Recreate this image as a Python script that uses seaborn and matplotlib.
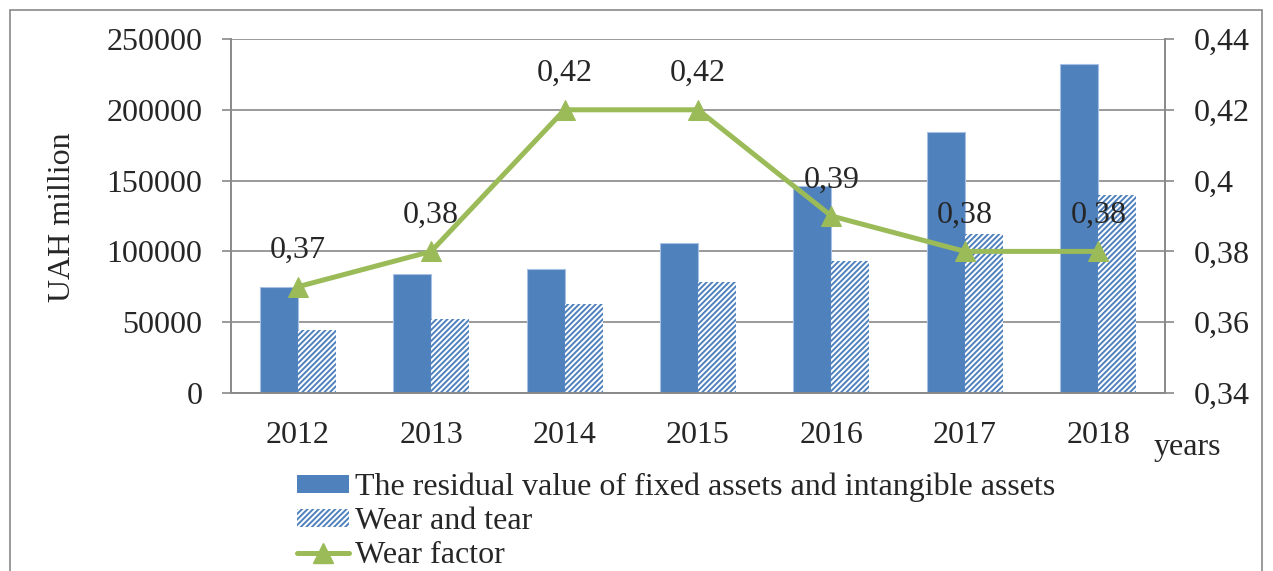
import numpy as np
import pandas as pd
import seaborn as sns
import matplotlib.pyplot as plt
from matplotlib.patches import Patch, Rectangle
from matplotlib.lines import Line2D
from matplotlib.ticker import FixedLocator, FuncFormatter

# values
years = ['2012', '2013', '2014', '2015', '2016', '2017', '2018']
residual_value = [75000, 84000, 87500, 106000, 146500, 184000, 232500]
wear_and_tear = [44500, 52300, 63000, 78300, 93000, 112300, 140000]
wear_factor = [0.37, 0.38, 0.42, 0.42, 0.39, 0.38, 0.38]

label_residual = 'The residual value of fixed assets and intangible assets'
label_wear = 'Wear and tear'
label_factor = 'Wear factor'

blue = '#4F81BD'
green = '#9BBB59'
grey = '#898989'

sns.set_style('white')
plt.rcParams['font.family'] = ['Liberation Serif', 'DejaVu Serif']
plt.rcParams['hatch.linewidth'] = 1.4
fs = 23
hatch = '//////'

df = pd.DataFrame({
    'year': years * 2,
    'value': residual_value + wear_and_tear,
    'series': [label_residual] * len(years) + [label_wear] * len(years),
})
df_line = pd.DataFrame({'year': years, 'factor': wear_factor})

fig = plt.figure(figsize=(12.73, 5.71), dpi=100)
ax = fig.add_axes([231 / 1273, 1 - 393 / 571, (1165 - 231) / 1273, (393 - 39) / 571])

sns.barplot(data=df, x='year', y='value', hue='series', palette=[blue, 'white'],
            width=0.57, saturation=1, legend=False, ax=ax)
for p in ax.containers[0]:
    p.set_edgecolor('#a8c1e3')
    p.set_linewidth(0.8)
for p in ax.containers[1]:
    p.set_hatch(hatch)
    p.set_edgecolor(blue)
    p.set_linewidth(0)

ax.set_xlim(-0.5, len(years) - 0.5)
ax.set_ylim(0, 250000)
ax.set_yticks(np.arange(0, 250001, 50000))
ax.yaxis.set_major_formatter(FuncFormatter(lambda v, p: f'{int(v)}'))
ax.set_axisbelow(True)
ax.grid(axis='y', color=grey, linewidth=1.2)
ax.set_xlabel('')
ax.set_ylabel('')

# category ticks between years, labels at centres
ax.xaxis.set_major_locator(FixedLocator(np.arange(-0.5, len(years), 1.0)))
ax.xaxis.set_major_formatter(FuncFormatter(lambda v, p: ''))
ax.set_xticks(np.arange(len(years)), labels=years, minor=True)
ax.tick_params(axis='x', which='major', length=7, width=1.2, color=grey, direction='out')
ax.tick_params(axis='x', which='minor', length=0, pad=20, labelsize=fs)
ax.tick_params(axis='y', length=6.5, width=1.2, color=grey, pad=14, labelsize=fs, left=True)

for s in ['left', 'right', 'bottom']:
    ax.spines[s].set_color(grey)
    ax.spines[s].set_linewidth(1.2)
ax.spines['top'].set_visible(False)

ax2 = ax.twinx()
sns.lineplot(data=df_line, x='year', y='factor', color=green, linewidth=3.6,
             marker='^', markersize=14, markeredgecolor=green, ax=ax2)
ax2.set_ylim(0.34, 0.44)
ax2.set_yticks(np.arange(0.34, 0.4401, 0.02))
ax2.yaxis.set_major_formatter(FuncFormatter(lambda v, p: f'{round(v, 2):g}'.replace('.', ',')))
ax2.tick_params(axis='y', length=6.5, width=1.2, color=grey, pad=14, labelsize=fs, right=True)
ax2.set_ylabel('')
ax2.set_xlabel('')
ax2.set_xlim(-0.5, len(years) - 0.5)
for s in ['left', 'right', 'bottom']:
    ax2.spines[s].set_color(grey)
    ax2.spines[s].set_linewidth(1.2)
ax2.spines['top'].set_visible(False)

for i, v in enumerate(wear_factor):
    ax2.annotate(f'{v:g}'.replace('.', ','), (i, v), xytext=(0, 26),
                 textcoords='offset points', ha='center', va='center', fontsize=fs)

fig.text(62 / 1273, 1 - 217 / 571, 'UAH million', rotation=90, ha='center', va='center', fontsize=fs)
fig.text(1187 / 1273, 1 - 447 / 571, 'years', ha='center', va='center', fontsize=fs)

handles = [
    Patch(facecolor=blue, edgecolor=blue, linewidth=0),
    Patch(facecolor='white', edgecolor=blue, hatch=hatch, linewidth=0),
    Line2D([], [], color=green, linewidth=3.6, marker='^', markersize=14),
]
fig.legend(handles, [label_residual, label_wear, label_factor], loc='upper left',
           bbox_to_anchor=(297 / 1273, 1 - 473 / 571), frameon=False, fontsize=fs,
           borderpad=0, borderaxespad=0, handlelength=1.63, handleheight=0.5,
           handletextpad=0.2, labelspacing=0.15)

fig.patches.append(Rectangle((9.5 / 1273, -0.2), (1262 - 9.5) / 1273, 1.2 - 10 / 571,
                             transform=fig.transFigure, fill=False, edgecolor=grey,
                             linewidth=1.2))

fig.savefig('out.png', dpi=100)
